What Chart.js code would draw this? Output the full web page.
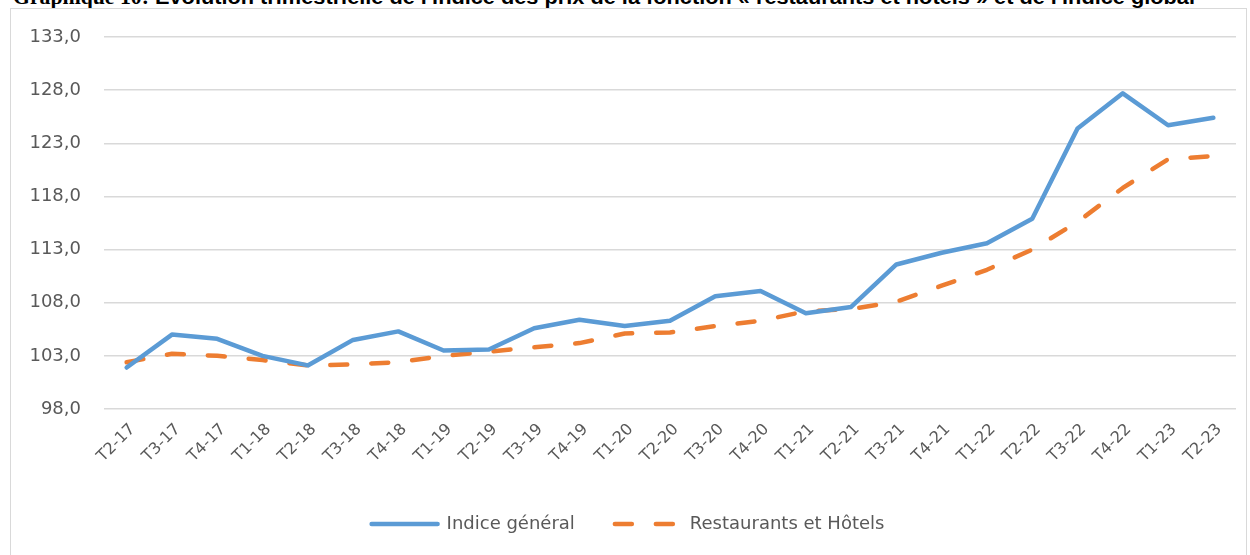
<!DOCTYPE html>
<html>
<head>
<meta charset="utf-8">
<script src="https://cdn.jsdelivr.net/npm/chart.js@4"></script>
<style>
  html, body { margin: 0; padding: 0; background: #fff; width: 1250px; height: 555px; overflow: hidden; }
  #title { position: absolute; left: 13px; top: -14px; white-space: nowrap; font: bold 20px "Liberation Sans", Arial, sans-serif; color: #000; transform-origin: 0 0; }
  #title .g { font-family: "Liberation Serif", "Times New Roman", serif; }
  #frame { position: absolute; left: 10px; top: 8px; width: 1237px; height: 560px; border: 1.5px solid #d9d9d9; box-sizing: border-box; }
  #wrap { position: absolute; left: 0; top: 0; width: 1250px; height: 555px; }
</style>
</head>
<body>
<div id="title"><span class="g">Graphique 10:</span> Evolution trimestrielle de l'indice des prix de la fonction « restaurants et hôtels » et de l'indice global</div>
<div id="frame"></div>
<div id="wrap"><canvas id="myChart" width="1250" height="555"></canvas></div>
<script>
  const quarters = ['T2-17', 'T3-17', 'T4-17', 'T1-18', 'T2-18', 'T3-18', 'T4-18', 'T1-19', 'T2-19', 'T3-19',
    'T4-19', 'T1-20', 'T2-20', 'T3-20', 'T4-20', 'T1-21', 'T2-21', 'T3-21', 'T4-21', 'T1-22', 'T2-22', 'T3-22',
    'T4-22', 'T1-23', 'T2-23']
  const indiceGeneral = [101.9, 105.0, 104.6, 103.0, 102.1, 104.5, 105.3, 103.5, 103.6, 105.6,
    106.4, 105.8, 106.3, 108.6, 109.1, 107.0, 107.6, 111.6, 112.7, 113.6, 115.9, 124.4,
    127.7, 124.7, 125.4]
  const restaurantsHotels = [102.4, 103.2, 103.0, 102.6, 102.1, 102.2, 102.4, 103.0, 103.4, 103.8,
    104.2, 105.1, 105.2, 105.8, 106.3, 107.2, 107.4, 108.1, 109.6, 111.1, 113.0, 115.6,
    118.8, 121.5, 121.8]
  const yTicks = [98, 103, 108, 113, 118, 123, 128, 133]

  // stretch the cut-off document title to its width in the picture
  const title = document.getElementById('title')
  title.style.transform = 'scaleX(' + (1182 / title.getBoundingClientRect().width) + ')'

  const ctx = document.getElementById('myChart')
  const myChart = new Chart(ctx, {
    type: 'line',
    data: {
      labels: quarters,
      datasets: [{
        label: 'Indice général',
        data: indiceGeneral,
        borderColor: '#5b9bd5',
        backgroundColor: '#5b9bd5',
        borderWidth: 4.5,
        borderCapStyle: 'round',
        borderJoinStyle: 'round',
        pointRadius: 0,
        tension: 0
      }, {
        label: 'Restaurants et Hôtels',
        data: restaurantsHotels,
        borderColor: '#ed7d31',
        backgroundColor: '#ed7d31',
        borderWidth: 4.5,
        borderDash: [17, 24],
        borderCapStyle: 'round',
        borderJoinStyle: 'round',
        pointRadius: 0,
        tension: 0
      }]
    },
    options: {
      responsive: false,
      animation: false,
      layout: { padding: { left: 20, right: 14, top: 37, bottom: 12 } },
      scales: {
        x: {
          offset: true,
          grid: { display: false },
          border: { display: false },
          ticks: {
            color: '#595959',
            font: { family: 'DejaVu Sans', size: 16 },
            minRotation: 45,
            maxRotation: 45,
            autoSkip: false,
            padding: 3,
            labelOffset: 6
          },
          afterFit: (scale) => { scale.height = 66 }
        },
        y: {
          min: 98,
          max: 133,
          afterBuildTicks: (scale) => { scale.ticks = yTicks.map(v => ({ value: v })) },
          grid: { color: '#d9d9d9', lineWidth: 1.5, drawTicks: false },
          border: { display: false },
          ticks: {
            color: '#595959',
            font: { family: 'DejaVu Sans', size: 18 },
            padding: 23,
            callback: (v) => v.toFixed(1).replace('.', ',')
          },
          afterFit: (scale) => { scale.width = 84 }
        }
      },
      plugins: {
        legend: {
          position: 'bottom',
          labels: {
            color: '#595959',
            font: { family: 'DejaVu Sans', size: 18 },
            usePointStyle: true,
            pointStyle: 'line',
            pointStyleWidth: 66,
            boxHeight: 18,
            padding: 40,
            generateLabels: (chart) => {
              const items = Chart.defaults.plugins.legend.labels.generateLabels(chart)
              items.forEach((it, i) => {
                const ds = chart.data.datasets[i]
                it.lineDash = ds.borderDash || []
                it.lineWidth = ds.borderWidth
                it.lineCap = 'round'
                it.strokeStyle = ds.borderColor
                it.fillStyle = ds.borderColor
                it.pointStyle = 'line'
              })
              return items
            }
          }
        },
        tooltip: { enabled: false }
      }
    }
  })
</script>
</body>
</html>
